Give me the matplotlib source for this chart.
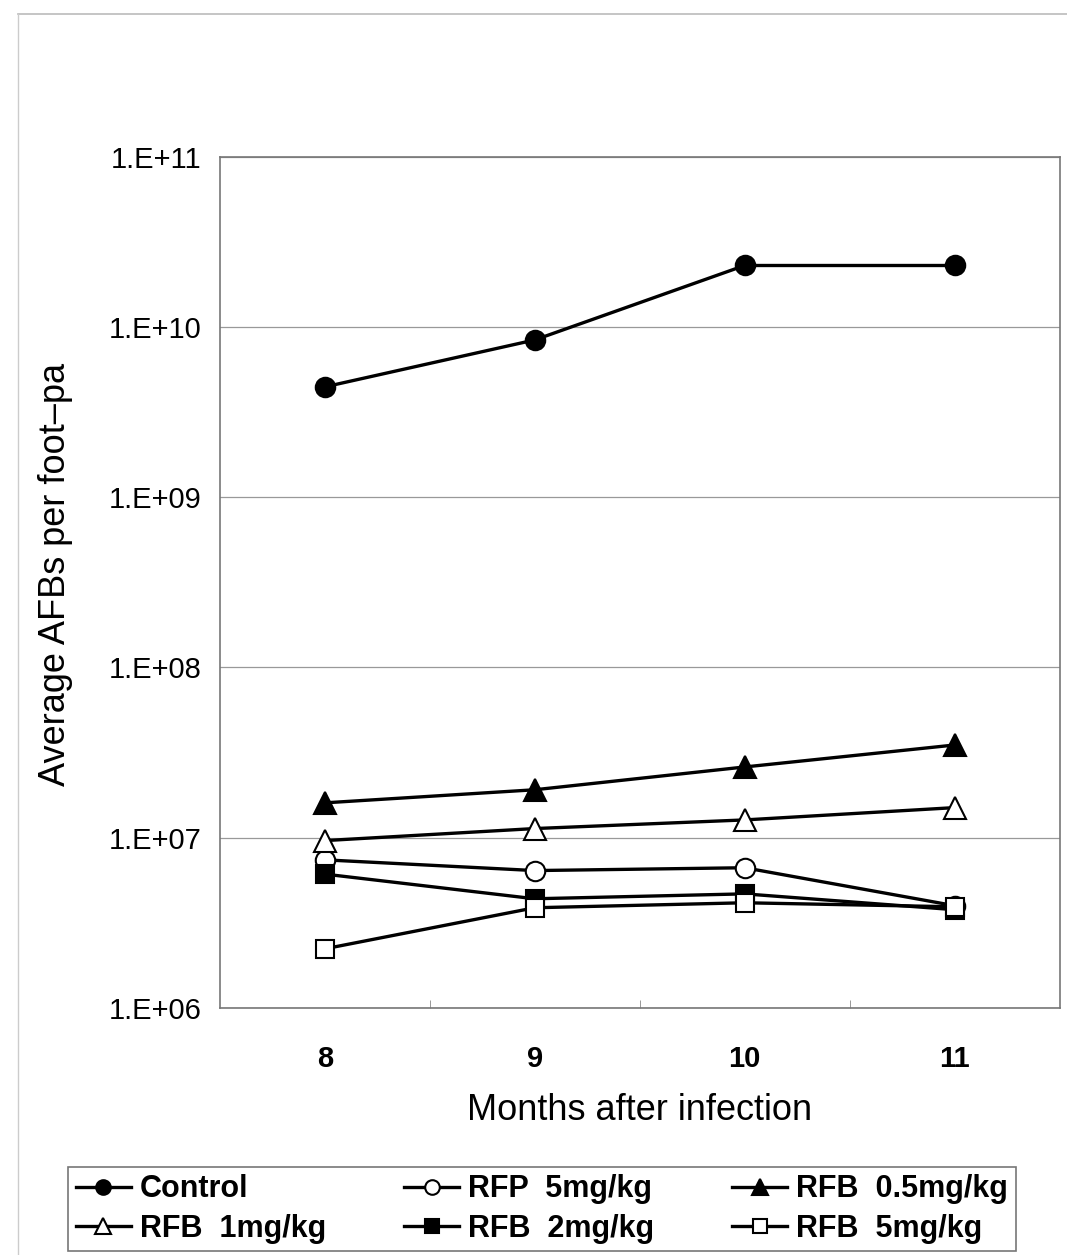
import matplotlib
matplotlib.use("Agg")
import matplotlib.pyplot as plt
from matplotlib.lines import Line2D
from matplotlib.ticker import FixedLocator, NullLocator

months = [8, 9, 10, 11]
series_labels = ["Control", "RFP  5mg/kg", "RFB  0.5mg/kg",
                 "RFB  1mg/kg", "RFB  2mg/kg", "RFB  5mg/kg"]
control = [4.45e9, 8.4e9, 2.3e10, 2.3e10]
rfp_5 = [7.4e6, 6.4e6, 6.65e6, 3.98e6]
rfb_05 = [1.6e7, 1.91e7, 2.6e7, 3.5e7]
rfb_1 = [9.6e6, 1.13e7, 1.27e7, 1.5e7]
rfb_2 = [6.1e6, 4.37e6, 4.67e6, 3.77e6]
rfb_5 = [2.22e6, 3.87e6, 4.14e6, 3.92e6]
ytick_vals = [1e6, 1e7, 1e8, 1e9, 1e10, 1e11]
ytick_labels = ["1.E+06", "1.E+07", "1.E+08", "1.E+09", "1.E+10", "1.E+11"]

plt.rcParams["font.family"] = ["Liberation Sans", "DejaVu Sans"]

fig = plt.figure(figsize=(10.67, 12.55), dpi=100)
ax = fig.add_axes([0.206, 0.197, 0.787, 0.678])

styles = [
    (control, "o", "black", 14),
    (rfp_5, "o", "white", 14),
    (rfb_05, "^", "black", 16),
    (rfb_1, "^", "white", 16),
    (rfb_2, "s", "black", 13),
    (rfb_5, "s", "white", 13),
]
handles = []
for (vals, mk, fc, ms), lab in zip(styles, series_labels):
    h, = ax.plot(months, vals, color="black", lw=2.4, marker=mk,
                 markersize=ms, markerfacecolor=fc,
                 markeredgecolor="black", markeredgewidth=1.5, label=lab,
                 zorder=3)
    handles.append(h)

ax.set_yscale("log")
ax.set_ylim(1e6, 1e11)
ax.set_xlim(7.5, 11.5)
ax.yaxis.set_major_locator(FixedLocator(ytick_vals))
ax.yaxis.set_minor_locator(NullLocator())
ax.set_yticklabels(ytick_labels, fontsize=21)
ax.set_xticks(months)
ax.set_xticklabels([str(m) for m in months], fontsize=21, fontweight="bold")
ax.set_xticks([8.5, 9.5, 10.5], minor=True)
ax.tick_params(axis="x", which="major", length=0, pad=27)
ax.tick_params(axis="x", which="minor", length=6, direction="in", color="#888888")
ax.tick_params(axis="y", length=0, pad=13)
ax.grid(axis="y", which="major", color="#999999", lw=0.9)
ax.set_axisbelow(True)
for sp in ax.spines.values():
    sp.set_color("#777777")
    sp.set_linewidth(1.2)

ax.set_xlabel("Months after infection", fontsize=26, labelpad=14)
fig.text(0.052, 0.542, "Average AFBs per foot\u2013pa", rotation=90, fontsize=26,
         ha="center", va="center")

# legend order filled column-wise to match row layout of the original
order = [0, 3, 1, 4, 2, 5]
leg = fig.legend([handles[i] for i in order], [series_labels[i] for i in order],
                 ncol=3, loc="lower left", bbox_to_anchor=(0.064, 0.003, 0.888, 0.077),
                 mode="expand", prop={"weight": "bold", "size": 22},
                 frameon=True, fancybox=False, edgecolor="#555555",
                 handlelength=1.8, handletextpad=0.3, columnspacing=0.6,
                 borderaxespad=0, borderpad=0.25, labelspacing=0.3,
                 markerscale=0.75)
leg.get_frame().set_linewidth(1.2)

# outer frame of the original figure (top and left edges visible)
fig.add_artist(Line2D([0.017, 1.0], [0.989, 0.989], transform=fig.transFigure,
                      color="#bbbbbb", lw=1.2))
fig.add_artist(Line2D([0.017, 0.017], [0.0, 0.989], transform=fig.transFigure,
                      color="#cccccc", lw=1.0))

fig.savefig("out.png", dpi=100)
